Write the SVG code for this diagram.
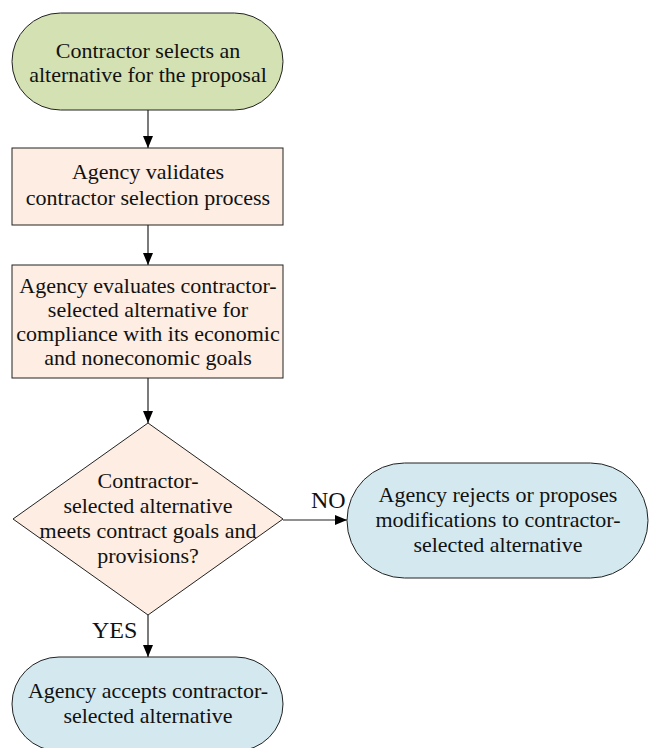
<svg xmlns="http://www.w3.org/2000/svg" width="652" height="748" viewBox="0 0 652 748">
  <style>
    .node { stroke: #222; stroke-width: 1; }
    .start { fill: #d4e1b3; }
    .task { fill: #fdede2; }
    .end { fill: #d3e9ef; }
    text { font-family: 'Liberation Serif', 'Times New Roman', Times, 'DejaVu Serif', serif; fill: #111; }
    .txt { font-size: 22px; text-anchor: middle; }
    .lbl { font-size: 24px; }
    .conn { stroke: #222; stroke-width: 1.2; fill: none; marker-end: url(#arrow); }
  </style>
  <defs>
    <marker id="arrow" viewBox="0 0 12 10" refX="12" refY="5" markerWidth="12" markerHeight="10" markerUnits="userSpaceOnUse" orient="auto">
      <path d="M0,0 L12,5 L0,10 Z" fill="#000"/>
    </marker>
  </defs>

  <rect width="652" height="748" fill="#fff"/>

  <g id="connectors">
    <line class="conn" x1="148" y1="110" x2="148" y2="148"/>
    <line class="conn" x1="148" y1="225" x2="148" y2="265"/>
    <line class="conn" x1="148" y1="378" x2="148" y2="423"/>
    <line class="conn" x1="283" y1="520" x2="347" y2="520"/>
    <line class="conn" x1="148" y1="615" x2="148" y2="657"/>
    <text class="lbl" x="311" y="508">NO</text>
    <text class="lbl" x="92" y="638">YES</text>
  </g>

  <g id="start">
    <rect class="node start" x="12" y="13" width="271" height="97" rx="48.5" ry="48.5"/>
    <text class="txt" x="148" y="58">Contractor selects an</text>
    <text class="txt" x="148" y="82">alternative for the proposal</text>
  </g>

  <g id="validate">
    <rect class="node task" x="12" y="148" width="271" height="77"/>
    <text class="txt" x="148" y="179">Agency validates</text>
    <text class="txt" x="148" y="205">contractor selection process</text>
  </g>

  <g id="evaluate">
    <rect class="node task" x="12" y="265" width="271" height="113"/>
    <text class="txt" x="148" y="293">Agency evaluates contractor-</text>
    <text class="txt" x="148" y="317">selected alternative for</text>
    <text class="txt" x="148" y="341">compliance with its economic</text>
    <text class="txt" x="148" y="365">and noneconomic goals</text>
  </g>

  <g id="decision">
    <polygon class="node task" points="148,423 283,519 148,615 13,519"/>
    <text class="txt" x="148" y="488" font-size="21.5">Contractor-</text>
    <text class="txt" x="148" y="513" font-size="21.5">selected alternative</text>
    <text class="txt" x="148" y="538" font-size="21.5">meets contract goals and</text>
    <text class="txt" x="148" y="563" font-size="21.5">provisions?</text>
  </g>

  <g id="reject">
    <rect class="node end" x="347" y="463" width="301" height="115" rx="57.5" ry="57.5"/>
    <text class="txt" x="498" y="502">Agency rejects or proposes</text>
    <text class="txt" x="498" y="527">modifications to contractor-</text>
    <text class="txt" x="498" y="552">selected alternative</text>
  </g>

  <g id="accept">
    <rect class="node end" x="12" y="657" width="271" height="94" rx="47" ry="47"/>
    <text class="txt" x="148" y="698">Agency accepts contractor-</text>
    <text class="txt" x="148" y="723">selected alternative</text>
  </g>
</svg>
